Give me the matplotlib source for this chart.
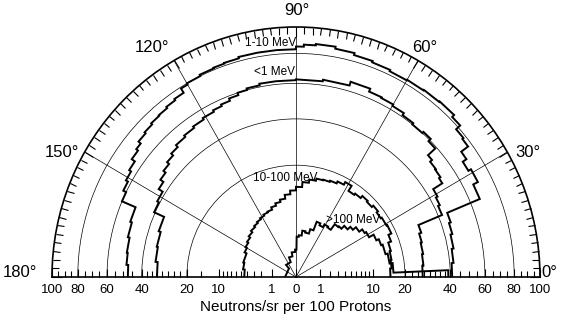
import numpy as np
import matplotlib
matplotlib.use('Agg')
import matplotlib.pyplot as plt
from matplotlib.ticker import FuncFormatter

plt.rcParams['font.family'] = ['Liberation Sans', 'DejaVu Sans']

# angular bins (deg, 0 = forward) and neutrons/sr per 100 protons in each bin
edges_1_10 = [0, 5, 10, 15, 19, 22.5, 27, 31, 34, 36.5, 39, 42, 45, 50, 55, 60, 65, 70,
              75, 80, 85, 88, 90, 95, 100, 105, 109, 112, 116, 120, 122, 125, 128, 131,
              134, 137, 140, 142, 145, 148, 151, 154, 157, 162, 167, 172, 176, 180]
vals_1_10 = [41, 42, 43, 44, 45, 66.5, 70, 68, 71, 77, 78, 82, 84, 83.5, 83, 82.5, 83.5,
             84.5, 86, 87.5, 86.5, 85, 83, 83, 83, 82, 81.5, 81, 80, 79, 75.5, 74.5, 73.5,
             73, 72, 71, 69, 67.5, 65, 63.5, 62, 60, 51, 50, 49, 48.5, 47.5]

edges_lt1 = [0, 5, 10, 15, 19, 22.5, 26, 29, 32, 34, 37, 40, 42, 45, 48, 52, 56, 60, 64,
             68, 74, 82, 90, 96, 101, 105, 108, 111, 114, 117, 121, 125, 129, 133, 136,
             139, 142, 145, 148, 152, 156, 162, 168, 174, 180]
vals_lt1 = [27, 27.5, 28, 28.5, 29.5, 42, 43, 44, 50, 51, 51.5, 53, 59, 61, 60, 61, 62.5,
            63.5, 64, 66, 63.5, 62.5, 62, 62, 61, 60, 58.5, 57, 56, 55, 54, 53, 52, 50.5,
            49, 47.5, 46, 44, 41.5, 40.5, 35, 34, 33.5, 32.5]

edges_10_100 = [0, 5, 10, 15, 20, 24, 29, 34, 38, 42, 46, 50, 54, 58, 62, 66, 70, 74, 78,
                82, 86, 90, 94, 98, 102, 106, 110, 114, 118, 122, 126, 130, 135, 140, 145,
                150, 155, 165, 172, 180]
vals_10_100 = [15, 15.5, 15.8, 16.2, 17.2, 18.3, 18, 17.6, 18.2, 17.5, 17.9, 17, 16.5,
               18.5, 17.5, 16.8, 16.4, 16.2, 15.5, 14.5, 13, 12, 11, 10, 9.4, 8.8, 8.2, 8,
               7.7, 7.4, 7.1, 6.8, 6.4, 6.0, 5.7, 5.4, 5.0, 4.8, 4.5]

edges_gt100 = [0, 2.5, 8, 14, 20, 24, 28, 32, 35, 39, 42, 46, 49, 53, 57, 61, 65, 69, 73,
               78, 82, 86, 89, 92, 100, 110, 130, 180]
vals_gt100 = [39, 16, 15, 14.3, 13.8, 13, 11.5, 11, 10, 9, 8.1, 7.2, 7.0, 5.6, 5.8, 5.2,
              5.6, 4, 3.3, 3.5, 2.8, 2.6, 1.2, 1.0, 0.7, 0.4, 0.2]

# angle labels and baseline ticks
angle_ticks = [0, 30, 60, 90, 120, 150, 180]
angle_labels = ['0°', '30°', '60°', '90°', '120°', '150°', '180°']
base_major = [1, 10, 20, 40, 60, 80, 100]
base_minor = [2, 3, 4, 5, 6, 7, 8, 9, 15, 22.5, 25, 27.5, 30, 32.5, 35, 37.5,
              45, 50, 55, 65, 70, 75, 85, 90, 95]


def fwd(x):
    return np.sqrt(np.clip(x, 0, None))


def inv(x):
    return np.square(x)


def sfwd(x):
    return np.sign(x) * np.sqrt(np.abs(x))


def sinv(x):
    return np.sign(x) * np.square(x)


fig = plt.figure(figsize=(5.65, 3.2), dpi=100)
L, W = 0.092, 0.8637

# polar half-disk (wedge sits in middle half of the axes box)
ax = fig.add_axes([L, -0.25625, W, 1.5625], projection='polar')
ax.set_thetamin(0)
ax.set_thetamax(180)
ax.set_rscale('function', functions=(fwd, inv))
ax.set_rlim(0, 100)
ax.set_aspect('auto')

ax.set_thetagrids(angle_ticks, labels=[''] * len(angle_ticks))
ax.set_xticks(np.deg2rad(np.arange(0, 181, 2)), minor=True)
ax.set_rgrids([20, 40, 60, 80], labels=['', '', '', ''])
ax.tick_params(axis='y', length=0)
ax.tick_params(axis='x', which='both', bottom=False, top=True,
               labelbottom=False, labeltop=False)
ax.tick_params(axis='x', which='major', direction='in', length=7, width=0.8)
ax.tick_params(axis='x', which='minor', direction='in', length=5, width=0.8)
ax.grid(True, color='black', linewidth=0.5)
ax.spines['polar'].set_linewidth(1.2)
ax.spines['start'].set_linewidth(1.2)
ax.spines['end'].set_linewidth(1.2)
ax.spines['inner'].set_visible(False)

# angle labels, nudged outward from the rim
offsets = [(7, 3.5), (15, 0), (5, 9), (0.5, 12), (-16, 9), (-16.5, -0.5), (-23, 3.5)]
for a, lab, off in zip(angle_ticks, angle_labels, offsets):
    ax.annotate(lab, xy=(np.deg2rad(a), 100), xytext=off, textcoords='offset points',
                ha='center', va='center', fontsize=12, annotation_clip=False)

for edges, vals in [(edges_1_10, vals_1_10), (edges_lt1, vals_lt1),
                    (edges_10_100, vals_10_100), (edges_gt100, vals_gt100)]:
    ax.stairs(vals, np.deg2rad(edges), baseline=None, color='black', linewidth=1.4)

ax.set_rlim(0, 100)

# baseline scale: same sqrt scale mirrored to both sides
bx = fig.add_axes([L, 0.1344, W, 0.04])
bx.set_xscale('function', functions=(sfwd, sinv))
bx.set_xlim(-100, 100)
bx.patch.set_visible(False)
for s in bx.spines.values():
    s.set_visible(False)
bx.set_yticks([])
bx.set_xticks([-v for v in base_major[::-1]] + [0] + base_major)
bx.set_xticks([-v for v in base_minor] + base_minor, minor=True)
bx.xaxis.set_major_formatter(FuncFormatter(lambda x, p: f'{abs(x):g}'))
bx.tick_params(axis='x', which='major', direction='in', length=6, width=0.8,
               labelsize=9.5, pad=5)
bx.tick_params(axis='x', which='minor', direction='in', length=4, width=0.8)
bx.set_xlabel('Neutrons/sr per 100 Protons', fontsize=11, labelpad=3)

# curve labels
fig.text(0.524, 0.866, '1-10 MeV', fontsize=8.5, ha='right', va='center')
fig.text(0.522, 0.775, '<1 MeV', fontsize=8.5, ha='right', va='center')
fig.text(0.504, 0.444, '10-100 MeV', fontsize=8.5, ha='center', va='center')
fig.text(0.625, 0.311, '>100 MeV', fontsize=8.5, ha='center', va='center')

fig.savefig('out.png', dpi=100)
